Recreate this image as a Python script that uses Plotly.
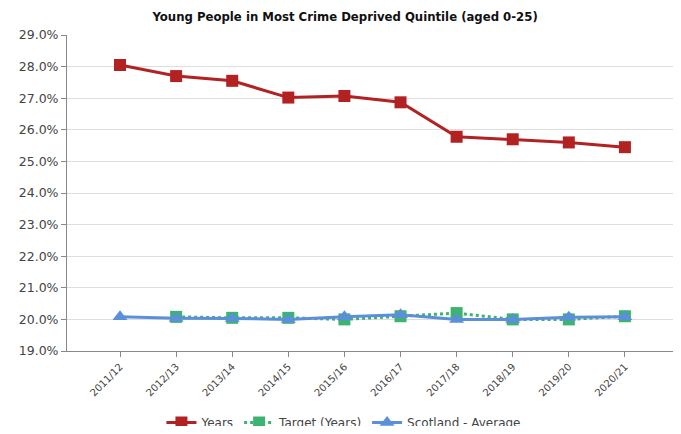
import plotly.graph_objects as go

years = ["2011/12", "2012/13", "2013/14", "2014/15", "2015/16",
         "2016/17", "2017/18", "2018/19", "2019/20", "2020/21"]
years_vals = [28.05, 27.70, 27.55, 27.02, 27.07, 26.87, 25.78, 25.70, 25.60, 25.45]
target_vals = [None, 20.08, 20.05, 20.05, 20.00, 20.10, 20.20, 20.00, 20.00, 20.10]
scotland_vals = [20.08, 20.04, 20.03, 20.00, 20.08, 20.15, 20.00, 20.00, 20.07, 20.08]
y_ticks = [19, 20, 21, 22, 23, 24, 25, 26, 27, 28, 29]

fig = go.Figure()
fig.add_trace(go.Scatter(
    x=years, y=years_vals, name="Years", mode="lines+markers",
    line=dict(color="#b22222", width=3),
    marker=dict(symbol="square", size=12, color="#b22222"),
))
fig.add_trace(go.Scatter(
    x=years, y=target_vals, name="Target (Years)", mode="lines+markers",
    line=dict(color="#3cb371", width=3, dash="dot"),
    marker=dict(symbol="square", size=12, color="#3cb371"),
))
fig.add_trace(go.Scatter(
    x=years, y=scotland_vals, name="Scotland - Average", mode="lines+markers",
    line=dict(color="#5b8fd9", width=3),
    marker=dict(symbol="triangle-up", size=13, color="#5b8fd9"),
))

fig.update_layout(
    width=665, height=418,
    margin=dict(l=59, r=0, t=27, b=75, autoexpand=False),
    paper_bgcolor="white", plot_bgcolor="white",
    title=dict(text="<b>Young People in Most Crime Deprived Quintile (aged 0-25)</b>",
               x=0.507, xanchor="center", y=0.99, yanchor="top",
               font=dict(family="DejaVu Sans Condensed, DejaVu Sans", size=13, color="#111")),
    font=dict(family="DejaVu Sans", size=12, color="#444"),
    showlegend=True,
    legend=dict(orientation="h", x=0.457, xanchor="center", y=-0.18, yanchor="top",
                itemwidth=30, font=dict(size=12, color="#444")),
)
fig.update_xaxes(
    type="category", range=[-0.945, 9.857], showgrid=False,
    showline=True, linecolor="#888", linewidth=1,
    ticks="outside", ticklen=5, tickcolor="#888", automargin=False,
    tickangle=-45, tickfont=dict(size=10, color="#444"),
)
fig.update_yaxes(
    range=[19, 29], tickvals=y_ticks,
    ticktext=[f"{v:.1f}%" for v in y_ticks],
    showgrid=True, gridcolor="#dddddd", gridwidth=1,
    showline=True, linecolor="#888", linewidth=1,
    ticks="outside", ticklen=5, tickcolor="#888", zeroline=False,
    automargin=False,
    tickfont=dict(family="DejaVu Sans", size=12.5, color="#444"),
)

fig.write_html("out.html")
